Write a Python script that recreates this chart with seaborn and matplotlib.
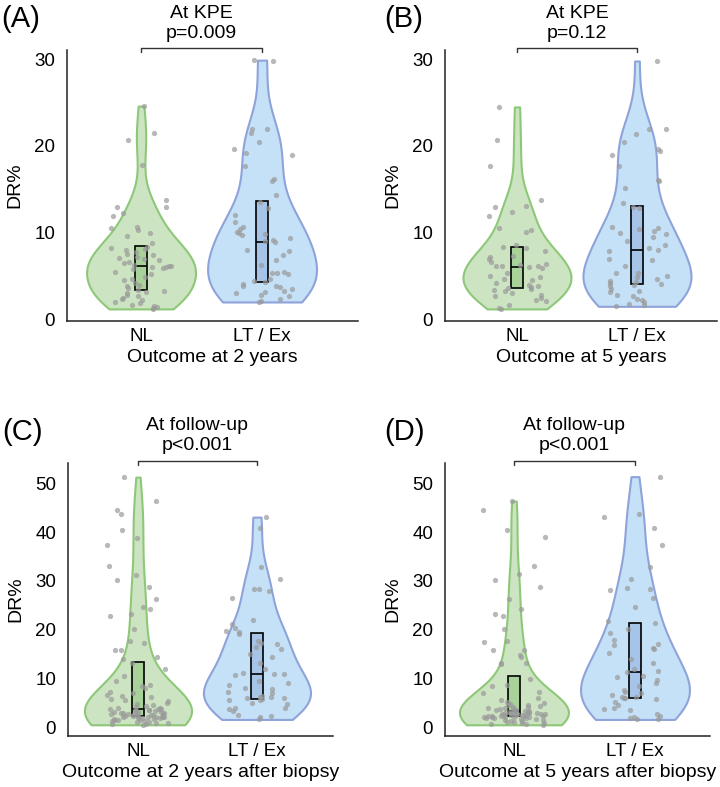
import numpy as np
import pandas as pd
import matplotlib
matplotlib.use("Agg")
import matplotlib.pyplot as plt
import seaborn as sns

groups = ["NL", "LT / Ex"]

# DR% values (one list per violin)
nl_a = [24.6, 21.5, 20.7, 17.8, 13.8, 13.0, 12.9, 12.3, 11.9, 10.7, 10.5, 10.3, 10.0, 9.6, 8.8, 8.4,
        8.2, 8.1, 8.0, 7.8, 7.5, 7.4, 7.2, 7.1, 7.0, 6.9, 6.6, 6.5, 6.3, 6.2,
        6.1, 6.0, 6.0, 5.9, 5.8, 5.5, 5.2, 4.9, 4.7, 4.5, 4.2, 4.0, 3.8, 3.6,
        3.4, 3.3, 3.2, 3.0, 2.8, 2.7, 2.5, 2.3, 2.2, 2.0, 1.9, 1.7, 1.5, 1.4, 1.3, 1.2]
lt_a = [29.9, 29.8, 22.0, 21.9, 21.5, 20.5, 19.7, 19.2, 19.0, 17.7, 16.2, 16.0, 14.3,
        13.5, 12.8, 12.0, 11.2, 10.6, 10.4, 10.1, 10.0, 9.8, 9.7, 9.4, 9.1, 9.0,
        8.9, 8.0, 7.9, 7.4, 6.9, 6.3, 5.5, 5.4, 5.3, 5.2, 4.6, 4.4, 4.3,
        4.1, 3.9, 3.8, 3.7, 3.5, 3.3, 3.1, 3.0, 2.8, 2.7, 2.3, 2.1, 2.0]
nl_b = [24.5, 20.7, 17.7, 13.8, 13.1, 13.0, 12.4, 11.9, 10.5, 10.3, 10.1, 8.6,
        8.3, 8.2, 7.9, 7.3, 7.2, 7.0, 6.6, 6.4, 6.3, 6.2, 6.2, 6.1,
        6.0, 5.9, 5.4, 5.0, 4.9, 4.7, 4.5, 4.2, 4.0, 3.8, 3.7, 3.6,
        3.5, 3.4, 3.3, 3.0, 2.8, 2.7, 2.5, 2.2, 2.1, 1.6, 1.3, 1.2]
lt_b = [29.8, 22.0, 21.9, 21.4, 20.4, 19.6, 19.4, 19.0, 17.7, 16.1, 16.0, 15.2, 13.4,
        12.9, 12.8, 10.7, 10.5, 10.4, 10.2, 10.0, 9.8, 9.5, 9.0, 8.6, 8.2, 8.0,
        7.9, 7.0, 6.8, 6.2, 5.4, 5.3, 5.0, 4.9, 4.6, 4.4, 4.3, 4.2, 4.1,
        4.0, 3.9, 3.5, 3.3, 3.1, 2.8, 2.7, 2.4, 2.2, 2.0, 1.8, 1.6, 1.5]
nl_c = [51.3, 46.5, 44.5, 43.7, 40.4, 38.9, 37.3, 33.1, 31.3, 30.2, 28.7, 26.4, 24.6, 24.2,
        23.3, 22.8, 20.1, 17.7, 17.3, 15.9, 15.8, 14.5, 13.9,
        13.1, 12.0, 10.5, 9.5, 8.6, 8.4, 8.0, 7.3, 7.0, 6.6, 6.5, 6.2, 5.8, 5.5, 5.3, 5.0,
        4.8, 4.6, 4.4, 4.2, 4.0, 3.9, 3.8,
        3.7, 3.7, 3.6, 3.5, 3.5, 3.4, 3.3, 3.2, 3.2, 3.1, 3.0, 3.0, 2.9, 2.8, 2.8, 2.7,
        2.6, 2.6, 2.5, 2.5, 2.4, 2.4, 2.3,
        2.3, 2.2, 2.2, 2.1, 2.0, 2.0, 1.9, 1.8, 1.8, 1.7, 1.6, 1.5, 1.5, 1.4, 1.3, 1.2,
        1.1, 1.0, 0.9, 0.8, 0.7, 0.6, 0.5]
lt_c = [43.1, 40.8, 32.8, 30.4, 28.4, 28.4, 28.0, 26.6, 22.0, 21.2, 20.3, 19.7, 19.5,
        19.2, 17.7, 17.2, 17.1, 16.4, 16.1, 15.1, 14.5, 13.1, 12.0, 11.2, 11.0, 10.9,
        10.8, 9.4, 9.0, 8.6, 8.0, 7.9, 7.3, 7.1, 6.4, 6.2, 6.1, 6.0, 5.9,
        5.8, 5.6, 5.5, 4.9, 4.7, 4.0, 3.9, 3.7, 3.4, 2.5, 2.4, 2.0, 1.6]
nl_d = [46.4, 44.5, 40.4, 39.0, 33.1, 31.4, 30.2, 28.7, 26.4, 24.2, 23.3, 22.8, 20.1, 17.7,
        17.4, 15.9, 15.8, 14.8, 14.4, 13.2, 13.1, 13.0,
        9.8, 8.6, 8.4, 7.2, 7.0, 6.0, 5.6, 5.2, 4.9, 4.7, 4.6, 4.5, 4.4, 4.2, 4.1, 4.0,
        3.9, 3.8, 3.7, 3.6, 3.5, 3.4,
        3.4, 3.3, 3.3, 3.2, 3.1, 3.0, 3.0, 2.9, 2.9, 2.8, 2.8, 2.7, 2.7, 2.6, 2.6, 2.5,
        2.5, 2.5, 2.4, 2.4, 2.3, 2.3,
        2.3, 2.2, 2.2, 2.1, 2.0, 2.0, 1.9, 1.8, 1.8, 1.7, 1.6, 1.5, 1.4, 1.3, 1.2, 1.1,
        1.0, 0.9, 0.8, 0.7, 0.6, 0.5]
lt_d = [51.4, 43.7, 43.1, 40.9, 37.3, 32.8, 30.5, 28.6, 28.4, 28.2, 26.5, 24.6, 21.8,
        21.3, 20.2, 19.3, 17.8, 17.1, 16.8, 16.3, 16.1, 15.2, 14.0, 13.2, 12.0, 11.5,
        11.3, 10.6, 10.3, 9.6, 9.0, 8.4, 7.6, 7.3, 7.0, 6.6, 6.2, 6.1, 6.0,
        5.9, 5.7, 5.2, 4.6, 4.0, 3.8, 3.6, 2.7, 2.4, 2.2, 1.9, 1.7, 1.6]

panel_labels = ["(A)", "(B)", "(C)", "(D)"]
titles = ["At KPE", "At KPE", "At follow-up", "At follow-up"]
pvalues = ["p=0.009", "p=0.12", "p<0.001", "p<0.001"]
xlabels = ["Outcome at 2 years", "Outcome at 5 years",
           "Outcome at 2 years after biopsy", "Outcome at 5 years after biopsy"]
nl_data = [nl_a, nl_b, nl_c, nl_d]
lt_data = [lt_a, lt_b, lt_c, lt_d]
y_ticks = [[0, 10, 20, 30], [0, 10, 20, 30], [0, 10, 20, 30, 40, 50], [0, 10, 20, 30, 40, 50]]

fill_pal = {"NL": "#cde4c2", "LT / Ex": "#c5e1f7"}
edge_pal = ["#8dc878", "#8fa3da"]
box_pal = {"NL": "#a9d29a", "LT / Ex": "#a6c3e8"}

W, H = 720, 787
# axes boxes in pixels: left, right, top, bottom ; plus xlim / ylim
boxes = [(67, 358, 50, 320.7), (445, 717, 50, 320.7), (68, 333, 463, 736), (445, 710, 463, 736)]
xlims = [(-0.612, 1.793), (-0.6, 1.667), (-0.588, 1.639), (-0.57, 1.62)]
ylims = [(-0.16, 31.07), (-0.16, 31.07), (-1.8, 54.2), (-1.8, 54.2)]
label_x = [21, 404, 22, 404]

sns.set_style("white")
plt.rcParams["font.family"] = ["Liberation Sans", "DejaVu Sans"]
plt.rcParams["text.color"] = "black"
plt.rcParams["axes.labelcolor"] = "black"
plt.rcParams["xtick.color"] = "black"
plt.rcParams["ytick.color"] = "black"

fig = plt.figure(figsize=(7.2, 7.87), dpi=100)
np.random.seed(3)

for i in range(4):
    l, r, t, b = boxes[i]
    ax = fig.add_axes([l / W, 1 - b / H, (r - l) / W, (b - t) / H])
    df = pd.DataFrame({"group": ["NL"] * len(nl_data[i]) + ["LT / Ex"] * len(lt_data[i]),
                       "dr": nl_data[i] + lt_data[i]})

    sns.violinplot(data=df, x="group", y="dr", hue="group", order=groups, hue_order=groups,
                   palette=fill_pal, inner=None, cut=0, density_norm="width", width=0.9,
                   linewidth=1.5, saturation=1, legend=False, ax=ax)
    for coll, ec in zip(ax.collections, edge_pal):
        coll.set_edgecolor(ec)

    sns.stripplot(data=df, x="group", y="dr", order=groups, color="#9a9a9a", alpha=0.7,
                  size=3.8, jitter=0.26, linewidth=0, ax=ax)

    sns.boxplot(data=df, x="group", y="dr", hue="group", order=groups, hue_order=groups,
                palette=box_pal, width=0.1, whis=0, showcaps=False, showfliers=False,
                saturation=1, linecolor="black", linewidth=1.2, legend=False,
                whiskerprops=dict(linewidth=0), ax=ax)

    ax.set_xlim(*xlims[i])
    ax.set_ylim(*ylims[i])
    ax.set_yticks(y_ticks[i])
    sns.despine(ax=ax)
    for side in ["left", "bottom"]:
        ax.spines[side].set_color("#222222")
        ax.spines[side].set_linewidth(1.1)
    ax.tick_params(axis="y", length=2.5, width=1, color="#222222", pad=6, labelsize=13.5)
    ax.tick_params(axis="x", length=0, pad=5, labelsize=13.5)
    ax.set_ylabel("DR%", fontsize=14, labelpad=8)
    ax.set_xlabel(xlabels[i], fontsize=14, labelpad=3)

    # significance bracket and header text
    h = b - t
    y_top = 1 + 2.5 / h
    y_tick = 1 - 1.5 / h
    tr = ax.get_xaxis_transform()
    ax.plot([0, 0, 1, 1], [y_tick, y_top, y_top, y_tick], transform=tr, clip_on=False,
            color="#333333", lw=1)
    ax.text(0.5, 1 + 17 / h, pvalues[i], transform=tr, ha="center", va="center", fontsize=14)
    ax.text(0.5, 1 + 37 / h, titles[i], transform=tr, ha="center", va="center", fontsize=14)

    fig.text(label_x[i] / W, 1 - (t - 31) / H, panel_labels[i], fontsize=21,
             ha="center", va="center")

fig.savefig("out.png", dpi=100)
